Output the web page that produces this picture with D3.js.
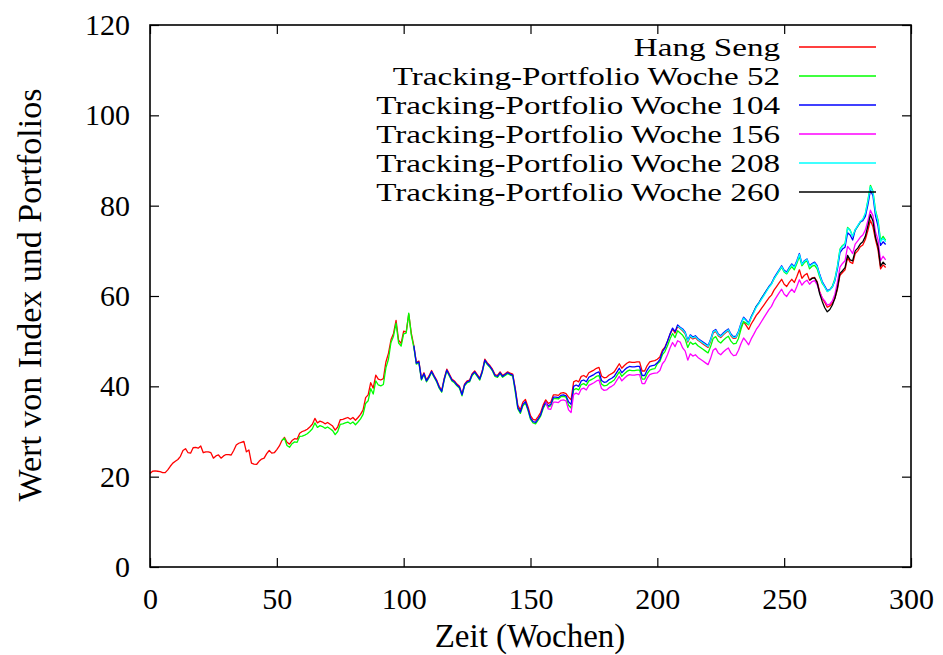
<!DOCTYPE html>
<html>
<head>
<meta charset="utf-8">
<script src="https://cdn.jsdelivr.net/npm/d3@7"></script>
<style>
  html, body { margin: 0; padding: 0; background: #fff; }
  svg { display: block; }
  text { font-family: "Liberation Serif", "Times New Roman", serif; fill: #000; }
</style>
</head>
<body>
<svg id="chart" width="943" height="655"></svg>
<script>
// Weekly values: Hang Seng index and the tracking portfolios started at weeks 52, 104, 156, 208, 260
const hangSengStart = 0;
const hangSeng = [
  20.7, 21.2, 21.3, 21.2, 21.1, 20.9, 20.9, 21.5, 22.3, 23.0,
  23.4, 23.8, 24.5, 25.8, 26.2, 25.3, 25.2, 26.4, 26.5, 26.3,
  26.8, 25.3, 25.5, 25.5, 25.3, 24.1, 24.6, 24.8, 24.1, 24.6,
  24.9, 24.9, 24.8, 25.8, 27.0, 27.4, 27.6, 27.8, 25.5, 25.9,
  23.0, 22.8, 22.7, 23.4, 23.9, 24.1, 25.1, 25.8, 25.2, 25.3,
  26.0, 26.8, 28.0, 28.7, 27.6, 27.2, 28.0, 28.4, 28.3, 29.6,
  30.0, 30.2, 30.5, 31.0, 31.6, 32.9, 31.9, 32.3, 32.1, 31.7,
  32.0, 31.6, 31.2, 30.3, 31.0, 32.6, 32.7, 32.9, 33.1, 32.7,
  33.1, 32.5, 33.1, 33.8, 34.8, 37.5, 38.1, 40.8, 39.6, 42.5,
  41.6, 41.4, 41.7, 45.4, 47.3, 50.3, 51.7, 54.6, 50.2, 49.5,
  52.2, 52.0, 56.0, 51.8, 49.0, 45.3, 45.6, 41.8, 43.0, 41.4,
  42.3, 43.5, 42.4, 41.4, 40.0, 39.1, 41.8, 43.8, 42.7, 41.6,
  41.2, 40.5, 40.0, 38.3, 40.5, 41.2, 41.4, 42.8, 43.4, 42.6,
  41.8, 43.5, 46.0, 45.2, 44.6, 43.8, 42.6, 42.4, 43.2, 42.4,
  42.8, 43.2, 42.9, 42.7, 39.5, 35.8, 34.8, 36.5, 37.1, 35.5,
  33.5, 32.7, 32.5, 33.3, 34.2, 35.9, 37.0, 36.2, 36.5, 38.1,
  38.1, 38.0, 38.5, 38.6, 38.4, 37.6, 37.0, 41.0, 41.3, 41.0,
  42.2, 42.4, 42.0, 43.0, 43.3, 43.6, 44.0, 44.2, 42.3, 41.9,
  42.0, 42.5, 42.8, 43.2, 44.1, 45.0, 44.0, 44.6, 45.1, 45.4,
  45.3, 45.3, 45.4, 45.4, 43.4, 43.4, 44.6, 45.4, 45.6, 45.7,
  46.0, 46.5, 48.0, 48.7, 50.0, 51.5, 52.7, 51.8, 53.3, 52.8,
  52.3, 51.6, 49.8, 51.0, 50.5, 50.8, 50.2, 49.8, 49.4, 49.0,
  48.6, 50.0, 51.8, 52.2, 51.2, 50.8, 51.4, 51.9, 52.3, 51.2,
  50.6, 50.7, 51.8, 53.2, 54.3, 53.5, 52.6, 53.8, 54.7, 55.7,
  56.4, 57.2, 58.0, 58.8, 59.6, 60.2, 61.3, 62.1, 62.9, 63.7,
  62.6, 62.1, 63.0, 63.7, 63.0, 64.3, 65.8, 63.9, 64.6, 65.0,
  63.5, 64.0, 64.1, 63.2, 61.0, 59.5, 58.6, 57.5, 57.8, 58.4,
  59.5, 61.5, 64.6, 65.2, 65.8, 68.5, 67.5, 67.2, 69.4, 70.0,
  70.9, 71.3, 72.5, 74.5, 76.8, 75.3, 72.5, 70.2, 66.0, 66.9, 66.3
];

const tp52Start = 52;
const tp52 = [
  28.0, 28.5, 26.9, 26.5, 27.3, 27.7, 27.6, 28.9,
  29.0, 29.2, 29.5, 30.0, 30.6, 31.9, 30.9, 31.3, 31.1, 30.7,
  31.0, 30.6, 30.2, 29.3, 30.0, 31.6, 31.7, 31.9, 32.1, 31.7,
  32.1, 31.5, 32.1, 32.8, 33.8, 36.2, 36.8, 39.5, 38.3, 41.2,
  40.3, 40.1, 40.4, 44.1, 46.0, 49.7, 51.1, 54.0, 49.6, 48.9,
  51.6, 51.8, 56.2, 51.4, 48.6, 44.9, 45.2, 41.4, 42.6, 41.0,
  41.9, 43.1, 42.0, 41.0, 39.6, 38.7, 41.4, 43.4, 42.3, 41.2,
  40.8, 40.1, 39.6, 37.9, 40.1, 40.8, 41.0, 42.4, 43.0, 42.2,
  41.4, 43.1, 45.6, 44.8, 44.2, 43.4, 42.2, 42.0, 42.8, 42.0,
  42.4, 42.8, 42.5, 42.3, 38.7, 35.0, 34.0, 35.7, 36.3, 34.7,
  32.7, 31.9, 31.7, 32.5, 33.4, 35.1, 36.2, 35.4, 35.7, 37.3,
  37.3, 37.2, 37.7, 37.8, 37.6, 35.8, 35.2, 39.2, 39.5, 39.2,
  40.4, 40.6, 40.2, 41.2, 41.5, 41.8, 42.2, 42.4, 40.5, 40.1,
  40.2, 40.7, 41.0, 41.4, 42.3, 43.2, 42.2, 42.8, 43.3, 43.6,
  43.5, 43.5, 43.6, 43.6, 41.6, 41.6, 42.8, 43.6, 43.8, 43.9,
  45.0, 45.5, 47.0, 47.7, 49.0, 50.5, 51.7, 50.8, 52.3, 51.8,
  51.3, 50.4, 48.6, 49.8, 49.3, 49.6, 49.0, 48.6, 48.2, 47.8,
  47.4, 48.8, 50.6, 51.0, 50.0, 49.6, 50.2, 50.7, 51.1, 50.0,
  49.4, 49.5, 50.6, 52.7, 54.3, 54.0, 53.6, 55.3, 56.5, 57.7,
  58.4, 59.5, 60.3, 61.2, 62.0, 62.7, 63.8, 64.7, 65.5, 66.4,
  65.3, 64.9, 65.8, 66.5, 65.8, 67.2, 68.8, 66.7, 67.4, 67.8,
  66.0, 66.6, 66.8, 66.0, 64.2, 62.8, 62.0, 61.0, 61.4, 62.2,
  63.8, 66.6, 70.4, 71.2, 71.6, 75.2, 74.6, 73.2, 74.6, 75.4,
  76.3, 76.9, 78.2, 81.2, 84.5, 83.2, 79.0, 76.8, 72.3, 73.2, 72.3
];

const tp104Start = 104;
const tp104 = [
  49.0, 45.1, 45.4, 41.6, 42.8, 41.2,
  42.1, 43.3, 42.2, 41.2, 39.8, 38.9, 41.6, 43.6, 42.5, 41.4,
  41.0, 40.3, 39.8, 38.1, 40.3, 41.0, 41.2, 42.6, 43.2, 42.4,
  41.6, 43.3, 45.8, 45.0, 44.4, 43.6, 42.4, 42.2, 43.0, 42.2,
  42.6, 43.0, 42.7, 42.5, 39.3, 35.3, 34.3, 36.0, 36.6, 35.0,
  33.0, 32.2, 32.0, 32.8, 33.7, 35.4, 36.5, 35.7, 36.0, 37.6,
  37.6, 37.5, 38.0, 38.1, 37.9, 36.6, 36.0, 40.0, 40.3, 40.0,
  41.2, 41.4, 41.0, 42.0, 42.3, 42.6, 43.0, 43.2, 41.3, 40.9,
  41.0, 41.5, 41.8, 42.2, 43.1, 44.0, 43.0, 43.6, 44.1, 44.4,
  44.3, 44.3, 44.4, 44.4, 42.4, 42.4, 43.6, 44.4, 44.6, 44.7,
  45.2, 45.9, 47.6, 48.5, 50.0, 51.6, 52.9, 52.1, 53.6, 53.1,
  52.7, 52.0, 50.2, 51.4, 50.9, 51.2, 50.6, 50.2, 49.8, 49.4,
  49.0, 50.4, 52.2, 52.6, 51.6, 51.2, 51.8, 52.3, 52.7, 51.6,
  51.0, 51.1, 52.2, 54.0, 55.3, 54.7, 54.0, 55.4, 56.5, 57.7,
  58.5, 59.4, 60.3, 61.2, 62.1, 62.8, 64.0, 64.9, 65.8, 66.7,
  65.7, 65.3, 66.3, 67.1, 66.5, 67.8, 69.4, 67.1, 67.8, 68.2,
  66.7, 67.2, 67.5, 66.7, 64.8, 63.2, 62.2, 61.2, 61.4, 62.0,
  63.4, 66.0, 69.6, 70.4, 70.8, 74.0, 73.5, 72.4, 74.6, 75.5,
  76.4, 76.7, 77.6, 80.2, 83.4, 82.2, 77.8, 75.5, 71.2, 72.0, 71.4
];

const tp156Start = 156;
const tp156 = [
  36.5, 35.0, 34.9, 36.5,
  36.5, 36.4, 36.9, 37.0, 36.8, 34.8, 34.2, 38.2, 38.5, 38.2,
  39.4, 39.6, 39.2, 40.2, 40.5, 40.8, 41.2, 41.4, 39.5, 39.1,
  39.2, 39.7, 40.0, 40.4, 41.3, 42.2, 41.2, 41.8, 42.3, 42.6,
  42.5, 42.5, 42.6, 42.6, 40.6, 40.6, 41.8, 42.6, 42.8, 42.9,
  43.0, 43.5, 45.0, 45.7, 47.0, 48.5, 49.7, 48.8, 50.1, 49.8,
  48.5, 47.8, 45.8, 47.2, 46.7, 47.0, 46.4, 46.0, 45.6, 45.2,
  44.8, 46.2, 48.0, 48.4, 47.4, 47.0, 47.6, 48.1, 48.5, 47.4,
  46.8, 46.9, 48.0, 49.5, 50.7, 50.0, 49.2, 50.5, 51.5, 52.6,
  53.4, 54.3, 55.2, 56.1, 57.0, 57.7, 58.9, 59.8, 60.7, 61.5,
  60.4, 59.9, 60.8, 61.5, 60.8, 62.1, 63.6, 62.4, 63.1, 63.5,
  62.6, 63.2, 63.4, 62.5, 60.8, 59.6, 58.9, 58.0, 58.2, 58.9,
  60.4, 63.0, 66.4, 67.2, 67.8, 71.0, 70.3, 69.4, 71.5, 72.2,
  73.0, 73.5, 74.6, 76.7, 79.0, 77.8, 74.2, 72.4, 67.8, 68.8, 68.0
];

const tp208Start = 208;
const tp208 = [
  53.3, 52.9,
  52.5, 51.8, 50.0, 51.2, 50.7, 51.0, 50.4, 50.0, 49.6, 49.2,
  48.8, 50.2, 52.0, 52.4, 51.4, 51.0, 51.6, 52.1, 52.5, 51.4,
  50.8, 50.9, 52.0, 53.8, 55.1, 54.5, 53.8, 55.2, 56.3, 57.5,
  58.3, 59.2, 60.1, 61.0, 61.9, 62.6, 63.8, 64.7, 65.6, 66.5,
  65.5, 65.1, 66.1, 66.9, 66.3, 67.6, 69.2, 67.0, 67.7, 68.1,
  66.5, 67.0, 67.3, 66.5, 64.6, 63.0, 62.0, 61.0, 61.3, 62.0,
  63.6, 66.5, 70.2, 71.0, 71.5, 75.0, 74.5, 73.2, 74.7, 75.6,
  76.5, 77.0, 78.3, 81.0, 84.2, 83.0, 78.7, 76.5, 72.0, 72.8, 72.0
];

const tp260Start = 260;
const tp260 = [
  63.5, 63.9, 64.0, 63.0, 60.5, 58.8, 57.4, 56.5, 57.0, 58.0,
  59.5, 61.8, 65.0, 65.6, 66.3, 69.0, 68.0, 67.8, 70.0, 70.6,
  71.5, 72.0, 73.2, 75.5, 78.0, 76.6, 73.0, 71.0, 66.6, 67.5, 66.9
];

const seriesNames = [
  "Hang Seng",
  "Tracking-Portfolio Woche 52",
  "Tracking-Portfolio Woche 104",
  "Tracking-Portfolio Woche 156",
  "Tracking-Portfolio Woche 208",
  "Tracking-Portfolio Woche 260"
];
const seriesStarts = [hangSengStart, tp52Start, tp104Start, tp156Start, tp208Start, tp260Start];
const seriesValues = [hangSeng, tp52, tp104, tp156, tp208, tp260];
const seriesColors = ["#ff0000", "#00ff00", "#0000ff", "#ff00ff", "#00ffff", "#000000"];

const xTicks = [0, 50, 100, 150, 200, 250, 300];
const yTicks = [0, 20, 40, 60, 80, 100, 120];
const xTitle = "Zeit (Wochen)";
const yTitle = "Wert von Index und Portfolios";

// Layout
const plot = { left: 150, right: 911, top: 25, bottom: 567 };
const svg = d3.select("#chart");

const x = d3.scaleLinear().domain([0, 300]).range([plot.left, plot.right]);
const y = d3.scaleLinear().domain([0, 120]).range([plot.bottom, plot.top]);

// Axes with inward ticks on all four sides
function styleAxis(g) {
  g.select(".domain").remove();
  g.selectAll(".tick line").attr("stroke", "#000").attr("stroke-width", 1.2);
  g.selectAll(".tick text")
    .style("font-family", '"Liberation Serif", serif')
    .style("font-size", "30px")
    .attr("fill", "#000");
}

svg.append("g")
  .attr("transform", `translate(0,${plot.bottom})`)
  .call(d3.axisBottom(x).tickValues(xTicks).tickSize(-9).tickPadding(21).tickFormat(d3.format("d")))
  .call(styleAxis);

svg.append("g")
  .attr("transform", `translate(0,${plot.top})`)
  .call(d3.axisTop(x).tickValues(xTicks).tickSize(-9).tickFormat(""))
  .call(styleAxis);

svg.append("g")
  .attr("transform", `translate(${plot.left},0)`)
  .call(d3.axisLeft(y).tickValues(yTicks).tickSize(-9).tickPadding(20).tickFormat(d3.format("d")))
  .call(styleAxis);

svg.append("g")
  .attr("transform", `translate(${plot.right},0)`)
  .call(d3.axisRight(y).tickValues(yTicks).tickSize(-9).tickFormat(""))
  .call(styleAxis);

// Lines
const line = d3.line()
  .x(d => x(d.w))
  .y(d => y(d.v));

const linesG = svg.append("g");
seriesValues.forEach((vals, i) => {
  const pts = vals.map((v, k) => ({ w: seriesStarts[i] + k, v }));
  linesG.append("path")
    .datum(pts)
    .attr("fill", "none")
    .attr("stroke", seriesColors[i])
    .attr("stroke-width", 1.3)
    .attr("stroke-linejoin", "round")
    .attr("d", line);
});

// Legend (top right, text right-aligned before the line sample).
// Glyphs are widened horizontally so the longest entry spans 404px.
const legend = svg.append("g");
const legendTop = 47, legendStep = 29, legendRight = 780, legendWidth = 404;
const legendTexts = seriesNames.map((name, i) => {
  const ly = legendTop + i * legendStep;
  const t = legend.append("text")
    .attr("text-anchor", "end")
    .attr("dominant-baseline", "central")
    .style("font-size", "26px")
    .text(name);
  legend.append("line")
    .attr("x1", 799).attr("x2", 876)
    .attr("y1", ly).attr("y2", ly)
    .attr("stroke", seriesColors[i])
    .attr("stroke-width", 1.3);
  return { t, ly };
});
const widest = d3.max(legendTexts, d => d.t.node().getComputedTextLength());
const sx = legendWidth / widest;
legendTexts.forEach(d => d.t.attr("transform", `translate(${legendRight},${d.ly}) scale(${sx},1)`));

// Frame
svg.append("rect")
  .attr("x", plot.left).attr("y", plot.top)
  .attr("width", plot.right - plot.left)
  .attr("height", plot.bottom - plot.top)
  .attr("fill", "none")
  .attr("stroke", "#000")
  .attr("stroke-width", 1.6);

// Axis titles
svg.append("text")
  .attr("x", 530)
  .attr("y", 636)
  .attr("text-anchor", "middle")
  .attr("dominant-baseline", "central")
  .style("font-size", "33px")
  .text(xTitle);

svg.append("text")
  .attr("transform", `translate(29,295) rotate(-90)`)
  .attr("text-anchor", "middle")
  .attr("dominant-baseline", "central")
  .style("font-size", "34px")
  .text(yTitle);
</script>
</body>
</html>
